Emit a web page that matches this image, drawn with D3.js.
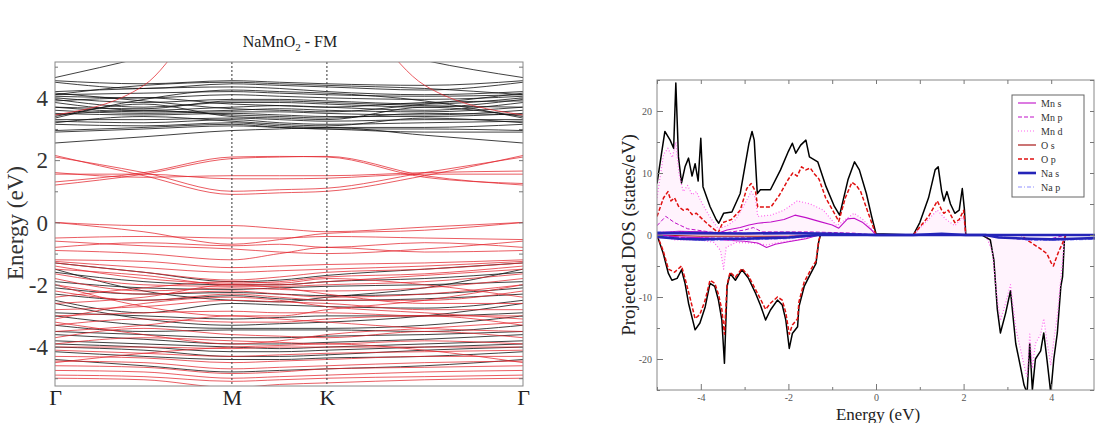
<!DOCTYPE html>
<html>
<head>
<meta charset="utf-8">
<script src="https://cdn.jsdelivr.net/npm/d3@7"></script>
<style>
  body { margin: 0; background: #fff; }
  svg { display: block; }
  svg text { font-family: "Liberation Serif", "DejaVu Serif", serif; }
  .frame { fill: none; stroke: #888; stroke-width: 1; }
  .band { fill: none; stroke-width: 1; }
</style>
</head>
<body>
<div id="chart"></div>
<script>
// NaMnO2 - FM : band structure (left) + projected DOS (right)

// ---- band structure data ----
var kLabels = ["Γ", "M", "K", "Γ"];
var kTicks = [0, 0.378, 0.581, 1.0];
// energies sampled at Γ, mid Γ-M, M, mid M-K, K, mid K-Γ, Γ
var kGrid = [0, 0.19, 0.378, 0.48, 0.581, 0.79, 1.0];

// spin down (black)
var bandsDown = [
  [4.65, 5.3, 6.0, 6.0, 6.0, 5.2, 4.65],
  [4.55, 4.45, 4.55, 4.5, 4.45, 4.4, 4.55],
  [4.5, 4.3, 4.45, 4.4, 4.35, 4.25, 4.5],
  [4.2, 4.3, 4.35, 4.3, 4.2, 4.1, 4.2],
  [4.1, 4.15, 4.2, 4.15, 4.1, 4.05, 4.1],
  [4.05, 4.0, 4.1, 4.05, 4.0, 3.95, 4.05],
  [4.0, 3.85, 3.95, 3.95, 3.9, 3.8, 4.0],
  [3.95, 3.7, 3.85, 3.85, 3.8, 3.7, 3.95],
  [3.85, 3.6, 3.7, 3.75, 3.7, 3.6, 3.85],
  [3.7, 3.55, 3.6, 3.65, 3.6, 3.55, 3.7],
  [3.6, 3.5, 3.55, 3.55, 3.5, 3.45, 3.6],
  [3.5, 3.45, 3.5, 3.45, 3.4, 3.4, 3.5],
  [3.45, 3.6, 3.45, 3.4, 3.35, 3.5, 3.45],
  [3.4, 3.8, 3.4, 3.35, 3.3, 3.7, 3.4],
  [3.35, 3.95, 4.25, 4.2, 4.15, 3.9, 3.35],
  [3.3, 3.3, 3.35, 3.3, 3.25, 3.3, 3.3],
  [3.25, 3.2, 3.3, 3.2, 3.15, 3.2, 3.25],
  [3.2, 3.4, 3.25, 3.15, 3.1, 3.35, 3.2],
  [3.15, 3.1, 3.2, 3.1, 3.05, 3.05, 3.15],
  [2.95, 3.05, 3.15, 3.05, 3.0, 3.0, 2.95],
  [2.9, 3.0, 3.1, 3.05, 3.0, 2.9, 2.9],
  [2.55, 2.75, 2.95, 3.0, 3.05, 2.8, 2.55],
  [4.15, 3.9, 3.65, 3.6, 3.55, 3.8, 4.15],
  [3.9, 4.0, 3.8, 3.75, 3.7, 3.85, 3.9],
  [4.1, 4.4, 4.5, 4.45, 4.4, 4.3, 4.1],
  [3.7, 3.65, 3.9, 3.9, 3.85, 3.75, 3.7],
  [-1.3, -1.6, -1.9, -1.85, -1.7, -1.5, -1.3],
  [-1.6, -1.9, -2.0, -2.0, -1.9, -1.8, -1.6],
  [-1.9, -2.1, -2.15, -2.1, -2.05, -2.0, -1.9],
  [-2.1, -2.3, -2.25, -2.3, -2.35, -2.3, -2.1],
  [-2.3, -2.5, -2.35, -2.45, -2.5, -2.45, -2.3],
  [-2.5, -2.9, -2.6, -2.65, -2.7, -2.75, -2.5],
  [-2.9, -3.0, -3.1, -3.05, -3.0, -3.0, -2.9],
  [-3.0, -3.3, -3.4, -3.4, -3.4, -3.3, -3.0],
  [-3.3, -3.5, -3.45, -3.45, -3.45, -3.5, -3.3],
  [-3.5, -3.6, -3.7, -3.7, -3.65, -3.6, -3.5],
  [-3.6, -3.75, -3.9, -3.9, -3.85, -3.75, -3.6],
  [-3.8, -3.9, -4.0, -4.05, -4.0, -3.9, -3.8],
  [-3.9, -4.0, -4.15, -4.15, -4.1, -4.0, -3.9],
  [-4.0, -4.1, -4.3, -4.3, -4.25, -4.1, -4.0],
  [-4.15, -4.3, -4.4, -4.4, -4.35, -4.3, -4.15],
  [-4.4, -4.6, -4.8, -4.75, -4.7, -4.6, -4.4],
  [-2.6, -3.1, -3.3, -3.25, -3.2, -3.0, -2.6],
  [-1.5, -2.2, -2.5, -2.55, -2.4, -2.1, -1.5]
];

// spin up (red)
var bandsUp = [
  [3.45, 4.4, 7.5, 7.8, 7.5, 4.4, 3.45],
  [2.15, 1.5, 0.9, 0.95, 1.0, 1.5, 2.15],
  [2.1, 1.6, 1.0, 1.05, 1.1, 1.6, 2.1],
  [1.2, 1.55, 2.05, 2.1, 2.12, 1.5, 1.2],
  [1.3, 1.6, 2.1, 2.12, 2.1, 1.45, 1.25],
  [1.55, 1.55, 1.4, 1.4, 1.42, 1.55, 1.55],
  [1.6, 1.45, 1.5, 1.5, 1.5, 1.6, 1.65],
  [0.0, -0.1, -0.1, -0.2, -0.3, -0.15, 0.0],
  [0.0, -0.3, -0.7, -0.55, -0.35, -0.25, 0.0],
  [-0.5, -0.45, -0.5, -0.5, -0.45, -0.5, -0.55],
  [-0.8, -0.65, -0.75, -0.7, -0.8, -0.65, -0.8],
  [-0.6, -0.75, -0.85, -0.95, -1.0, -0.85, -0.6],
  [-0.9, -1.0, -1.2, -1.0, -0.8, -0.95, -0.9],
  [-1.2, -1.25, -1.45, -1.4, -1.35, -1.3, -1.2],
  [-1.25, -1.45, -1.6, -1.55, -1.5, -1.4, -1.25],
  [-1.3, -1.6, -1.85, -1.75, -1.6, -1.5, -1.3],
  [-1.4, -1.8, -1.95, -1.9, -1.75, -1.65, -1.4],
  [-1.5, -1.7, -2.0, -2.0, -1.9, -1.7, -1.5],
  [-1.65, -2.0, -2.05, -2.05, -2.0, -1.9, -1.65],
  [-1.8, -2.2, -2.1, -2.15, -2.2, -2.1, -1.8],
  [-2.0, -2.3, -2.2, -2.3, -2.4, -2.3, -2.0],
  [-2.2, -2.5, -2.3, -2.4, -2.5, -2.5, -2.2],
  [-2.4, -2.1, -1.9, -1.95, -1.8, -2.0, -2.4],
  [-2.6, -2.4, -2.0, -2.1, -2.3, -2.6, -2.6],
  [-2.8, -2.7, -2.5, -2.55, -2.6, -2.8, -2.8],
  [-3.0, -2.9, -2.85, -2.9, -2.9, -3.0, -3.0],
  [-3.1, -2.6, -2.4, -2.5, -2.7, -2.9, -3.1],
  [-3.3, -3.1, -3.2, -3.2, -3.1, -3.0, -3.3],
  [-3.5, -3.3, -3.0, -3.1, -3.2, -3.4, -3.5],
  [-3.7, -3.4, -3.6, -3.65, -3.7, -3.5, -3.7],
  [-3.9, -3.7, -3.8, -3.85, -3.9, -3.8, -3.9],
  [-4.0, -4.0, -4.05, -4.0, -4.0, -4.0, -4.0],
  [-4.1, -4.2, -4.3, -4.25, -4.2, -4.15, -4.1],
  [-4.3, -4.35, -4.5, -4.45, -4.4, -4.3, -4.3],
  [-4.45, -4.5, -4.7, -4.65, -4.6, -4.5, -4.45],
  [-4.6, -4.65, -4.85, -4.8, -4.7, -4.65, -4.6],
  [-4.75, -4.8, -5.0, -4.95, -4.9, -4.8, -4.75],
  [-4.9, -4.95, -5.1, -5.05, -5.0, -4.95, -4.9],
  [-5.0, -5.05, -5.3, -5.2, -5.15, -5.05, -5.0],
  [-4.5, -4.2, -4.0, -3.95, -3.9, -4.1, -4.5],
  [-3.2, -3.6, -3.9, -3.8, -3.6, -3.4, -3.2],
  [-2.0, -2.7, -3.0, -3.0, -2.8, -2.5, -2.0]
];

// ---- projected DOS data: [energy (eV), states/eV] ----
var totalUp = [[-5.0,8.3],[-4.9,13],[-4.82,16.7],[-4.7,15.3],[-4.62,14],[-4.57,24.5],[-4.51,12.6],[-4.44,8.4],[-4.36,11],[-4.28,12.4],[-4.2,9.5],[-4.13,11.5],[-4.06,8.7],[-4.0,15.6],[-3.95,7.8],[-3.79,4.6],[-3.65,2.5],[-3.59,1.9],[-3.48,3.5],[-3.29,3.7],[-3.1,6.7],[-2.9,14.8],[-2.83,16.7],[-2.78,15.3],[-2.71,6.7],[-2.64,7.3],[-2.41,7.3],[-2.18,10.5],[-2.0,13.5],[-1.91,14.8],[-1.83,13.2],[-1.72,14.5],[-1.6,15.3],[-1.52,12.6],[-1.33,11.8],[-1.14,7.8],[-0.95,4.6],[-0.83,3.2],[-0.64,8.9],[-0.49,11.8],[-0.38,10.5],[-0.22,6.7],[-0.1,3],[0.0,0.2],[0.85,0],[1.0,2],[1.2,6],[1.35,10.5],[1.42,11],[1.5,7],[1.55,5.5],[1.62,7],[1.7,5],[1.8,3.5],[1.9,4],[1.97,7.5],[2.02,4],[2.05,0],[5.0,0]];
var totalDn = [[-5.0,0],[-4.86,-2.9],[-4.74,-6.2],[-4.66,-7.3],[-4.54,-7.0],[-4.44,-5.6],[-4.36,-7.8],[-4.28,-11],[-4.13,-15.3],[-4.02,-14.2],[-3.9,-11.6],[-3.79,-7.8],[-3.68,-8.3],[-3.6,-10.4],[-3.52,-13.7],[-3.46,-20.7],[-3.4,-8.3],[-3.33,-6.2],[-3.21,-7.3],[-3.06,-5.6],[-2.91,-7.0],[-2.75,-9.4],[-2.64,-11.3],[-2.52,-13.7],[-2.41,-12.1],[-2.25,-10.5],[-2.14,-11.3],[-2.06,-13.7],[-1.98,-18.3],[-1.91,-15.9],[-1.79,-14.8],[-1.76,-11.6],[-1.64,-8.3],[-1.49,-6.2],[-1.37,-4.6],[-1.31,-1.2],[-1.27,0],[2.42,0],[2.61,-0.8],[2.69,-4],[2.77,-12],[2.84,-15.8],[2.96,-12.6],[3.07,-9.0],[3.19,-17.5],[3.3,-21.3],[3.38,-24.2],[3.45,-25.5],[3.51,-17.5],[3.57,-25],[3.64,-20],[3.76,-18.7],[3.83,-15.8],[3.91,-20.5],[3.99,-25.5],[4.06,-20],[4.14,-15.8],[4.22,-8.3],[4.26,-6.7],[4.3,-1],[4.33,0],[5.0,0]];
var oPUp = [[-5,3],[-4.85,6],[-4.75,7],[-4.68,5.5],[-4.6,6],[-4.5,4.5],[-4.4,4],[-4.3,4.2],[-4.2,3.3],[-4.1,3.5],[-4,2.8],[-3.8,1.5],[-3.6,0.4],[-3.5,2],[-3.3,2.5],[-3.1,4],[-2.95,7.5],[-2.85,8.3],[-2.75,7],[-2.7,4.5],[-2.4,4.5],[-2.2,6.5],[-2.0,9],[-1.9,10],[-1.8,9.5],[-1.7,11],[-1.6,10.5],[-1.5,10.8],[-1.4,9.8],[-1.3,9],[-1.15,6],[-0.95,3.5],[-0.85,2.2],[-0.7,6],[-0.55,8.5],[-0.45,8],[-0.35,7],[-0.2,4],[0,0],[0.85,0],[1.2,3],[1.4,5.5],[1.5,4],[1.55,3.5],[1.65,4],[1.8,2],[1.9,2.5],[2.0,4],[2.05,0],[5,0]];
var oPDn = [[-5,0],[-4.86,-2.5],[-4.74,-5.5],[-4.6,-6],[-4.44,-5],[-4.36,-7],[-4.25,-10],[-4.13,-13.5],[-4.02,-12.8],[-3.9,-10.5],[-3.79,-7.3],[-3.68,-7.8],[-3.6,-9.5],[-3.52,-12],[-3.46,-16],[-3.4,-8],[-3.33,-6],[-3.21,-6.8],[-3.06,-5.4],[-2.91,-6.6],[-2.75,-8.8],[-2.64,-10.3],[-2.52,-12],[-2.41,-11],[-2.25,-10],[-2.14,-10.5],[-2.06,-12.5],[-1.98,-16],[-1.91,-14.5],[-1.79,-13.5],[-1.76,-10.8],[-1.64,-7.6],[-1.49,-5.6],[-1.37,-4.2],[-1.31,-1],[-1.27,0],[3.3,0],[3.45,-0.8],[3.6,-1.5],[3.75,-2.2],[3.9,-3],[4.0,-4.5],[4.05,-5],[4.1,-4],[4.18,-2.5],[4.25,-1.5],[4.33,0],[5,0]];
var oSUp = [[-5,0.3],[-4,0.2],[-3,0.2],[-2,0.3],[-1,0.2],[0,0],[5,0]];
var oSDn = [[-5,0],[-4,-0.2],[-3,-0.2],[-2,-0.2],[-1.3,0],[5,0]];
var mnDUp = [[-5,6],[-4.85,13],[-4.75,14],[-4.65,12.5],[-4.57,15],[-4.5,10],[-4.4,7],[-4.3,8],[-4.2,6.5],[-4.1,7],[-4.0,5.5],[-3.8,3],[-3.6,1],[-3.4,1.5],[-3.2,2.5],[-3.0,5],[-2.85,7],[-2.75,6],[-2.7,3],[-2.4,3.2],[-2.1,4],[-1.8,5.5],[-1.5,5],[-1.2,4],[-0.9,1.5],[-0.7,2.5],[-0.5,3.5],[-0.3,2.5],[-0.1,1],[0,0],[0.85,0],[1.4,4],[1.6,2.5],[1.8,1.5],[2.0,3],[2.05,0],[5,0]];
var mnDDn = [[-5,0],[-4.6,-0.8],[-4.0,-0.8],[-3.7,-1.2],[-3.55,-2.5],[-3.48,-5.5],[-3.42,-2],[-3.2,-1.2],[-2.8,-1.3],[-2.5,-1.6],[-2.2,-1.2],[-1.8,-0.8],[-1.3,0],[2.5,0],[2.65,-2.5],[2.77,-10.5],[2.84,-13.8],[2.96,-11],[3.07,-8],[3.19,-15],[3.3,-18.5],[3.38,-21],[3.45,-23],[3.51,-16],[3.57,-21.5],[3.64,-17.5],[3.76,-16],[3.83,-13.5],[3.91,-17.5],[3.99,-21],[4.06,-17],[4.14,-13],[4.22,-7],[4.3,-1],[4.33,0],[5,0]];
var mnSUp = [[-5,0.4],[-4.5,0.6],[-4,0.5],[-3.6,0.3],[-3.4,0.8],[-3.1,1.2],[-2.9,1.6],[-2.7,1.9],[-2.4,2.1],[-2.1,2.5],[-1.85,3.2],[-1.6,2.8],[-1.3,2.2],[-1.0,1.6],[-0.85,1.1],[-0.65,2.6],[-0.5,2.7],[-0.3,2],[-0.1,0.8],[0,0],[5,0]];
var mnSDn = [[-5,0],[-4.5,-0.3],[-3.8,-0.5],[-3.5,-0.8],[-3.0,-1],[-2.7,-1.3],[-2.5,-2],[-2.3,-1.5],[-2.0,-1.1],[-1.6,-0.6],[-1.3,0],[5,0]];
var mnPUp = [[-5,1.5],[-4.8,3],[-4.6,2],[-4.3,1],[-3.8,0.5],[-3.5,0.3],[-3.0,0.8],[-2.8,1.2],[-2.6,0.5],[-1.5,0.5],[-0.5,0.3],[0,0],[5,0]];
var mnPDn = [[-5,0],[-4.5,-0.4],[-3.5,-0.5],[-2.5,-0.4],[-1.3,0],[2.6,0],[3.0,-0.5],[3.5,-0.8],[4,-0.6],[4.33,0],[5,0]];
var naSUp = [[-5,0.3],[-4,0.3],[-3,0.25],[-2,0.3],[-1,0.2],[0,0],[0.85,0],[1.5,0.2],[2.05,0],[5,0]];
var naSDn = [[-5,-0.3],[-4.5,-0.6],[-4,-0.7],[-3.5,-0.6],[-3,-0.6],[-2.5,-0.5],[-2,-0.4],[-1.3,0],[2.5,0],[2.8,-0.4],[3.5,-0.6],[4.0,-0.7],[4.5,-0.6],[5,-0.5]];
var naPUp = [[-5,0.5],[-4,0.4],[-3,0.3],[-2,0.4],[-1,0.2],[0,0],[5,0]];
var naPDn = [[-5,-0.2],[-4,-0.9],[-3,-0.8],[-2,-0.6],[-1.3,0],[2.6,0],[3.5,-0.9],[4.5,-0.8],[5,-0.7]];

var legendNames = ["Mn s", "Mn p", "Mn d", "O s", "O p", "Na s", "Na p"];
var dosXTicks = [-4, -2, 0, 2, 4];
var dosYTicks = [-20, -10, 0, 10, 20];
var bandYTicks = [-4, -2, 0, 2, 4];

var serif = "'Liberation Serif', 'DejaVu Serif', serif";
var plain = function(d){ return String(d); };   // hyphen minus, like the original
var svg = d3.select("#chart").append("svg").attr("width", 1095).attr("height", 423);

// ================= band structure =================
var x = d3.scaleLinear().domain([0, 1]).range([55, 523]);
var y = d3.scaleLinear().domain([-5.25, 5.15]).range([386, 62]);

svg.append("clipPath").attr("id", "clipBand")
  .append("rect").attr("x", 55).attr("y", 62).attr("width", 468).attr("height", 324);

var bandLine = d3.line()
  .x(function(d, i){ return x(kGrid[i]); })
  .y(function(d){ return y(d); })
  .curve(d3.curveMonotoneX);

var gb = svg.append("g").attr("clip-path", "url(#clipBand)");
gb.selectAll("path.dn").data(bandsDown).enter().append("path")
  .attr("class", "band dn").attr("d", bandLine)
  .attr("stroke", "#111").attr("stroke-opacity", 0.8);
gb.selectAll("path.up").data(bandsUp).enter().append("path")
  .attr("class", "band up").attr("d", bandLine)
  .attr("stroke", "#e3262e").attr("stroke-opacity", 0.75);

// high symmetry lines
svg.selectAll("line.hs").data(kTicks.slice(1, 3)).enter().append("line")
  .attr("x1", function(d){ return x(d); }).attr("x2", function(d){ return x(d); })
  .attr("y1", 62).attr("y2", 386)
  .attr("stroke", "#333").attr("stroke-width", 1).attr("stroke-dasharray", "2,2");

svg.append("rect").attr("class", "frame")
  .attr("x", 55).attr("y", 62).attr("width", 468).attr("height", 324);

function cleanAxis(g){
  g.attr("font-family", serif);
  g.select(".domain").remove();
  g.selectAll("line").attr("stroke", "#777");
}

// y axis (ticks inward)
var gyb = svg.append("g").attr("transform", "translate(55,0)")
  .call(d3.axisLeft(y).tickValues(bandYTicks).tickSize(-5).tickPadding(7).tickFormat(plain))
  .call(cleanAxis);
gyb.selectAll("text").style("font-size", "23px").style("fill", "#333").attr("dy", "0.34em");
svg.append("g").attr("transform", "translate(55,0)")
  .call(d3.axisLeft(y).tickValues([-5, -3, -1, 1, 3, 5]).tickSize(-3).tickFormat(""))
  .call(cleanAxis);
svg.append("g").attr("transform", "translate(523,0)")
  .call(d3.axisRight(y).tickValues(d3.range(-5, 6, 1)).tickSize(-4).tickFormat(""))
  .call(cleanAxis);

// k labels
var gxb = svg.append("g").attr("transform", "translate(0,386)")
  .call(d3.axisBottom(x).tickValues(kTicks).tickSize(0).tickPadding(3)
    .tickFormat(function(d, i){ return kLabels[i]; }))
  .call(cleanAxis);
gxb.selectAll("text").style("font-size", "22px").style("fill", "#222");

svg.append("text")
  .attr("transform", "translate(23,223) rotate(-90)")
  .attr("text-anchor", "middle").style("font-size", "23px").style("fill", "#333")
  .text("Energy (eV)");

var title = svg.append("text").attr("x", 290).attr("y", 47)
  .attr("text-anchor", "middle").style("font-size", "16px").style("fill", "#222");
title.append("tspan").text("NaMnO");
title.append("tspan").attr("dy", 4).style("font-size", "11px").text("2");
title.append("tspan").attr("dy", -4).text(" - FM");

// ================= projected DOS =================
var xd = d3.scaleLinear().domain([-5, 5]).range([657, 1095]);
var yd = d3.scaleLinear().domain([-25, 25]).range([390, 80]);

svg.append("clipPath").attr("id", "clipDos")
  .append("rect").attr("x", 657).attr("y", 80).attr("width", 438).attr("height", 310);

var dosLine = d3.line()
  .x(function(d){ return xd(d[0]); })
  .y(function(d){ return yd(d[1]); });
var dosArea = d3.area()
  .x(function(d){ return xd(d[0]); })
  .y0(yd(0))
  .y1(function(d){ return yd(d[1]); });

var gd = svg.append("g").attr("clip-path", "url(#clipDos)");

// light pink haze of the dotted Mn d curves
[mnDUp, mnDDn].forEach(function(s){
  gd.append("path").attr("d", dosArea(s)).attr("fill", "#ff9cf0").attr("fill-opacity", 0.12);
});

var dosSeries = [
  {data: [totalUp, totalDn], color: "#000", width: 1.5, dash: null},
  {data: [mnDUp, mnDDn], color: "#ff66ee", width: 1.2, dash: "1,2"},
  {data: [oPUp, oPDn], color: "#e01010", width: 1.5, dash: "4,2"},
  {data: [oSUp, oSDn], color: "#a81818", width: 1, dash: null},
  {data: [mnSUp, mnSDn], color: "#c010c8", width: 1.1, dash: null},
  {data: [mnPUp, mnPDn], color: "#c010c8", width: 1, dash: "4,2"},
  {data: [naPUp, naPDn], color: "#8f8fff", width: 1, dash: "4,2,1,2"},
  {data: [naSUp, naSDn], color: "#2424b8", width: 2.6, dash: null}
];
dosSeries.forEach(function(s){
  s.data.forEach(function(arr){
    gd.append("path").attr("d", dosLine(arr))
      .attr("fill", "none").attr("stroke", s.color)
      .attr("stroke-width", s.width).attr("stroke-dasharray", s.dash)
      .attr("stroke-linejoin", "round");
  });
});

svg.append("rect").attr("class", "frame").attr("stroke", "#555")
  .attr("x", 657).attr("y", 80).attr("width", 437).attr("height", 310);

var gxd = svg.append("g").attr("transform", "translate(0,390)")
  .call(d3.axisBottom(xd).tickValues(dosXTicks).tickSize(-6).tickPadding(4).tickFormat(plain))
  .call(cleanAxis);
gxd.selectAll("text").style("font-size", "10px").style("fill", "#555");
svg.append("g").attr("transform", "translate(0,390)")
  .call(d3.axisBottom(xd).tickValues([-5, -3, -1, 1, 3, 5]).tickSize(-3).tickFormat("")).call(cleanAxis);
svg.append("g").attr("transform", "translate(0,80)")
  .call(d3.axisTop(xd).tickValues(d3.range(-5, 6, 1)).tickSize(-4).tickFormat("")).call(cleanAxis);

var gyd = svg.append("g").attr("transform", "translate(657,0)")
  .call(d3.axisLeft(yd).tickValues(dosYTicks).tickSize(-6).tickPadding(5).tickFormat(plain))
  .call(cleanAxis);
gyd.selectAll("text").style("font-size", "10px").style("fill", "#555");
svg.append("g").attr("transform", "translate(657,0)")
  .call(d3.axisLeft(yd).tickValues([-25, -15, -5, 5, 15, 25]).tickSize(-3).tickFormat("")).call(cleanAxis);
svg.append("g").attr("transform", "translate(1094,0)")
  .call(d3.axisRight(yd).tickValues(d3.range(-25, 26, 5)).tickSize(-4).tickFormat("")).call(cleanAxis);

svg.append("text").attr("x", 878).attr("y", 420).attr("text-anchor", "middle")
  .style("font-size", "17px").style("fill", "#222").text("Energy (eV)");
svg.append("text").attr("transform", "translate(635,235) rotate(-90)")
  .attr("text-anchor", "middle").style("font-size", "19px").style("fill", "#222")
  .text("Projected DOS (states/eV)");

// legend
var legendStyle = [
  {color: "#c010c8", width: 1.1, dash: null},
  {color: "#c010c8", width: 1, dash: "4,2"},
  {color: "#ff66ee", width: 1.2, dash: "1,2"},
  {color: "#a81818", width: 1.2, dash: null},
  {color: "#e01010", width: 1.4, dash: "4,2"},
  {color: "#2424b8", width: 2.6, dash: null},
  {color: "#8f8fff", width: 1, dash: "4,2,1,2"}
];
var lg = svg.append("g").attr("transform", "translate(1012,95)");
lg.append("rect").attr("width", 72).attr("height", 102)
  .attr("fill", "#fff").attr("stroke", "#666").attr("stroke-width", 1);
var rows = lg.selectAll("g.row").data(legendNames).enter().append("g")
  .attr("transform", function(d, i){ return "translate(0," + (8 + i * 14) + ")"; });
rows.append("line").attr("x1", 6).attr("x2", 24).attr("y1", 0).attr("y2", 0)
  .attr("stroke", function(d, i){ return legendStyle[i].color; })
  .attr("stroke-width", function(d, i){ return legendStyle[i].width; })
  .attr("stroke-dasharray", function(d, i){ return legendStyle[i].dash; });
rows.append("text").attr("x", 29).attr("y", 0).attr("dy", "0.35em")
  .style("font-size", "10px").style("fill", "#333").text(function(d){ return d; });
</script>
</body>
</html>
